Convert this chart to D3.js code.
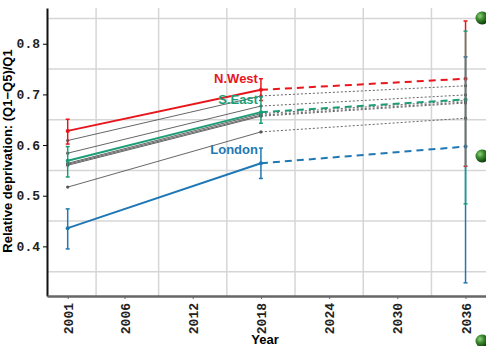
<!DOCTYPE html>
<html>
<head>
<meta charset="utf-8">
<script src="https://cdn.jsdelivr.net/npm/d3@7"></script>
<style>
  body { margin: 0; background: #fff; }
  svg { display: block; }
</style>
</head>
<body>
<div id="chart"></div>
<script>
// years of the three observations
var years = [2001, 2018, 2036];
var xTicks = [2001, 2006, 2012, 2018, 2024, 2030, 2036];
var yTicks = [0.4, 0.5, 0.6, 0.7, 0.8];

// highlighted regions
var northWest = [0.628, 0.709, 0.731];
var southEast = [0.569, 0.665, 0.690];
var london = [0.436, 0.564, 0.597];

// error bars [low, high] per year
var northWestErr = [[0.602, 0.651], [0.688, 0.731], [0.558, 0.845]];
var southEastErr = [[0.537, 0.597], [0.643, 0.695], [0.484, 0.825]];
var londonErr = [[0.395, 0.474], [0.534, 0.594], [0.328, 0.774]];

// other regions (grey)
var others = [
   [0.609, 0.697, 0.717],
   [0.584, 0.677, 0.699],
   [0.564, 0.662, 0.688],
   [0.562, 0.659, 0.685],
   [0.560, 0.657, 0.683],
   [0.517, 0.626, 0.653]
];

var width = 486, height = 346;
var margin = { left: 47, top: 8, right: 0, bottom: 50 };

var svg = d3.select('#chart').append('svg')
   .attr('width', width)
   .attr('height', height);

var x = d3.scaleLinear().domain([1999.18, 2037.8]).range([margin.left, width - margin.right]);
var y = d3.scaleLinear().domain([0.302, 0.8706]).range([height - margin.bottom, margin.top]);

var plot = svg.append('g');

// grid lines sit halfway between the ticks
var xGrid = [];
for (var i = 0; i < xTicks.length - 1; i++) xGrid.push((xTicks[i] + xTicks[i + 1]) / 2);
var yGrid = [0.35, 0.45, 0.55, 0.65, 0.75, 0.85];

plot.selectAll('.vgrid').data(xGrid).enter().append('line')
   .attr('x1', d => x(d)).attr('x2', d => x(d))
   .attr('y1', y.range()[1]).attr('y2', y.range()[0])
   .attr('stroke', '#d6d6d6').attr('stroke-width', 1.5);

plot.selectAll('.hgrid').data(yGrid).enter().append('line')
   .attr('x1', x.range()[0]).attr('x2', x.range()[1])
   .attr('y1', d => y(d)).attr('y2', d => y(d))
   .attr('stroke', '#d6d6d6').attr('stroke-width', 1.5);

function drawSeries(vals, color, width, solidDash, dotR) {
   var first = [[years[0], vals[0]], [years[1], vals[1]]];
   var second = [[years[1], vals[1]], [years[2], vals[2]]];
   var line = d3.line().x(d => x(d[0])).y(d => y(d[1]));
   plot.append('path').attr('d', line(first))
      .attr('fill', 'none').attr('stroke', color).attr('stroke-width', width);
   plot.append('path').attr('d', line(second))
      .attr('fill', 'none').attr('stroke', color).attr('stroke-width', width)
      .attr('stroke-dasharray', solidDash);
   plot.selectAll(null).data(vals).enter().append('circle')
      .attr('cx', (d, i) => x(years[i])).attr('cy', d => y(d))
      .attr('r', dotR).attr('fill', color);
}

function drawErr(err, color) {
   err.forEach(function (e, i) {
      var cx = x(years[i]);
      plot.append('line')
         .attr('x1', cx).attr('x2', cx)
         .attr('y1', y(e[0])).attr('y2', y(e[1]))
         .attr('stroke', color).attr('stroke-width', 1.5);
      [e[0], e[1]].forEach(function (v) {
         plot.append('line')
            .attr('x1', cx - 2).attr('x2', cx + 2)
            .attr('y1', y(v)).attr('y2', y(v))
            .attr('stroke', color).attr('stroke-width', 1.5);
      });
   });
}

others.forEach(function (o) {
   drawSeries(o, '#555', 0.9, '2,2', 1.6);
});

drawSeries(london, '#1f78b4', 2, '7,5', 2);
drawSeries(northWest, '#e8161c', 2, '7,5', 2);
drawSeries(southEast, '#1b9e77', 2, '7,5', 2);

drawErr(londonErr, '#1f78b4');
drawErr(northWestErr, '#e8161c');
drawErr(southEastErr, '#1b9e77');

// region labels
var labels = [
   { text: 'N.West', v: northWest[1], color: '#e8161c', dy: -7 },
   { text: 'S.East', v: southEast[1], color: '#1b9e77', dy: -8 },
   { text: 'London', v: london[1], color: '#1f78b4', dy: -9 }
];
plot.selectAll('.lab').data(labels).enter().append('text')
   .attr('x', x(years[1]) - 3)
   .attr('y', d => y(d.v) + d.dy)
   .attr('text-anchor', 'end')
   .attr('fill', d => d.color)
   .attr('font-family', 'Liberation Sans, Arial, sans-serif')
   .attr('font-weight', 'bold')
   .attr('font-size', 13)
   .text(d => d.text);

// axes
var yAxis = svg.append('g')
   .attr('transform', 'translate(' + margin.left + ',0)')
   .call(d3.axisLeft(y).tickValues(yTicks).tickSize(4).tickSizeOuter(0).tickFormat(d3.format('.1f')));
yAxis.select('.domain').attr('stroke', '#111').attr('stroke-width', 2);
yAxis.selectAll('text')
   .attr('font-family', 'Liberation Mono, Courier New, monospace')
   .attr('font-weight', 'bold')
   .attr('font-size', 13)
   .attr('fill', '#222');

var xAxis = svg.append('g')
   .attr('transform', 'translate(0,' + (height - margin.bottom) + ')')
   .call(d3.axisBottom(x).tickValues(xTicks).tickSize(3).tickSizeOuter(0).tickFormat(d3.format('d')));
xAxis.select('.domain').attr('stroke', '#666').attr('stroke-width', 2.5);
xAxis.selectAll('.tick line').attr('stroke', '#666');
xAxis.selectAll('text')
   .attr('font-family', 'Liberation Mono, Courier New, monospace')
   .attr('font-weight', 'bold')
   .attr('font-size', 13)
   .attr('fill', '#222')
   .attr('transform', 'rotate(-90)')
   .attr('text-anchor', 'end')
   .attr('x', -7).attr('y', 0).attr('dy', '0.35em');

svg.append('text')
   .attr('x', 265).attr('y', 344)
   .attr('text-anchor', 'middle')
   .attr('font-family', 'Liberation Sans, Arial, sans-serif')
   .attr('font-weight', 'bold')
   .attr('font-size', 13)
   .text('Year');

svg.append('text')
   .attr('transform', 'translate(12,151) rotate(-90)')
   .attr('text-anchor', 'middle')
   .attr('font-family', 'Liberation Sans, Arial, sans-serif')
   .attr('font-weight', 'bold')
   .attr('font-size', 13)
   .text('Relative deprivation: (Q1\u2212Q5)/Q1');

// green balls on the right edge
var defs = svg.append('defs');
var grad = defs.append('radialGradient').attr('id', 'ball').attr('cx', '35%').attr('cy', '35%').attr('r', '65%');
grad.append('stop').attr('offset', '0%').attr('stop-color', '#8fd17f');
grad.append('stop').attr('offset', '45%').attr('stop-color', '#3d8a2e');
grad.append('stop').attr('offset', '100%').attr('stop-color', '#0f3d0c');
var balls = [18, 156, 341];
svg.selectAll('.ball').data(balls).enter().append('circle')
   .attr('cx', 482).attr('cy', d => d).attr('r', 6.5)
   .attr('fill', 'url(#ball)');
</script>
</body>
</html>
